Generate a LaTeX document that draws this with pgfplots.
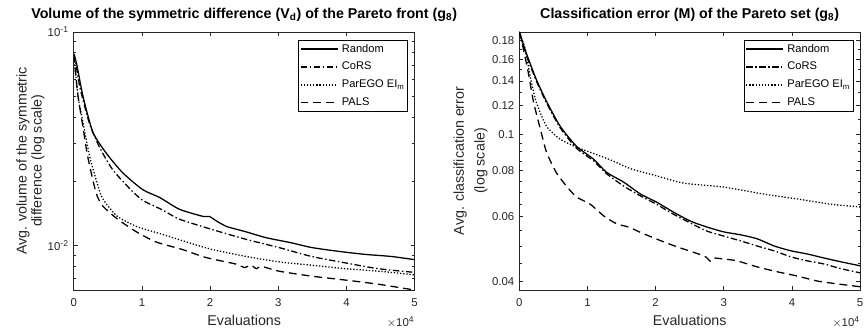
\documentclass[border=0pt]{standalone}
\usepackage{pgfplots}
\pgfplotsset{compat=1.18}
\usepackage{fontspec}
\setmainfont{Liberation Sans}
\definecolor{axgray}{RGB}{38,38,38}
\begin{document}
\begin{tikzpicture}
\pgfplotsset{
  mystyle/.style={
    scale only axis, width=239.4pt, height=181.3pt,
    xmin=0, xmax=5,
    xtick={0,1,2,3,4,5}, xticklabels={0,1,2,3,4,5},
    tick align=inside,
    major tick length=2.8pt, minor tick length=1.6pt,
    axis line style={axgray, line width=0.5pt},
    every tick/.style={axgray, line width=0.5pt},
    tick label style={font=\fontsize{8}{9.6}\selectfont, text=axgray},
    label style={font=\fontsize{10}{12.6}\selectfont, text=axgray},
    xlabel={Evaluations},
    xlabel style={at={(axis description cs:0.5,0)}, anchor=base, yshift=-25pt},
    xticklabel style={anchor=base, yshift=-11.9pt},
    title style={font=\bfseries\fontsize{10}{12}\selectfont, text=black, yshift=-2pt},
    legend style={font=\fontsize{7.8}{9}\selectfont, draw=black, line width=0.5pt,
      inner xsep=1pt, inner ysep=1.8pt, row sep=3.6pt, cells={anchor=west}, text=black,
      nodes={inner xsep=1pt, inner ysep=1pt},
      /tikz/every odd column/.append style={column sep=1.5pt}},
    legend image code/.code={\draw[##1, line width=0.9pt] (0pt,0pt) -- (26pt,0pt);},
    legend cell align=left,
    after end axis/.code={\node[anchor=base east, font=\fontsize{8}{9.6}\selectfont, text=axgray, inner sep=0pt] at ([yshift=-25.5pt]rel axis cs:1,0) {$\times$10\textsuperscript{4}};},
  },
  sRandom/.style={black, line width=0.9pt, smooth, tension=0.4},
  sCoRS/.style={black, line width=0.9pt, smooth, tension=0.4, dash pattern=on 4.5pt off 1.8pt on 1pt off 1.8pt},
  sParEGO/.style={black, line width=0.9pt, smooth, tension=0.4, dash pattern=on 0.9pt off 1.3pt},
  sPALS/.style={black, line width=0.9pt, smooth, tension=0.4, dash pattern=on 5.5pt off 3.5pt},
}
\begin{axis}[mystyle, ymode=log, at={(0,0)}, anchor=south west,
  ymin=0.0062, ymax=0.1,
  ytick={0.01,0.1}, yticklabels={10\textsuperscript{-2},10\textsuperscript{-1}},
  minor ytick={0.007,0.008,0.009,0.02,0.03,0.04,0.05,0.06,0.07,0.08,0.09},
  ylabel={Avg. volume of the symmetric\\difference (log scale)},
  ylabel style={at={(axis description cs:-0.127,0.5)}, anchor=center, align=center, font=\fontsize{10}{10.5}\selectfont},
  title={Volume of the symmetric difference (V\textsubscript{d}) of the Pareto front (g\textsubscript{8})},
  legend style={at={(rel axis cs:0.98,0.97)}, anchor=north east},
]
\addplot[sRandom] coordinates {(0,0.078)(0.04,0.0714)(0.136,0.0499)(0.28,0.0340)(0.48,0.0270)(0.72,0.0219)(1.01,0.0183)(1.26,0.0168)(1.55,0.0148)(1.9,0.0137)(1.99,0.0137)(2.1,0.0130)(2.24,0.0123)(2.4,0.0119)(2.53,0.0116)(2.82,0.0109)(3.20,0.0103)(3.49,0.0098)(3.89,0.0094)(4.28,0.0091)(4.66,0.0089)(5.0,0.0086)};
\addlegendentry{Random}
\addplot[sCoRS] coordinates {(0,0.078)(0.015,0.0767)(0.088,0.0554)(0.234,0.0370)(0.38,0.0288)(0.57,0.0227)(0.82,0.0185)(1.01,0.0163)(1.30,0.0147)(1.55,0.0133)(2.03,0.0119)(2.53,0.0107)(3.01,0.0098)(3.49,0.0089)(3.99,0.0083)(4.47,0.0078)(5.0,0.0075)};
\addlegendentry{CoRS}
\addplot[sParEGO] coordinates {(0,0.078)(0.063,0.0499)(0.136,0.0376)(0.234,0.0261)(0.33,0.0203)(0.42,0.0167)(0.63,0.0138)(0.92,0.0123)(1.30,0.0113)(1.70,0.0103)(2.03,0.0096)(2.53,0.0089)(3.01,0.0084)(3.49,0.0081)(3.99,0.0078)(4.47,0.0076)(5.0,0.0073)};
\addlegendentry{ParEGO EI\textsubscript{m}}
\addplot[sPALS] coordinates {(0,0.078)(0.06,0.0508)(0.13,0.0367)(0.2,0.0266)(0.28,0.0203)(0.34,0.0172)(0.42,0.0154)(0.63,0.0134)(0.92,0.0116)(1.21,0.0104)(1.59,0.0096)(1.94,0.0088)(2.38,0.0082)(2.5,0.0079)(2.6,0.0081)(2.68,0.0078)(2.75,0.0080)(3.01,0.0076)(3.49,0.0072)(3.99,0.0069)(4.47,0.0066)(5.0,0.0062)};
\addlegendentry{PALS}
\end{axis}
\begin{axis}[mystyle, ymode=log, at={(312.9pt,0)}, anchor=south west,
  ymin=0.038, ymax=0.19,
  ytick={0.04,0.06,0.08,0.1,0.12,0.14,0.16,0.18},
  yticklabels={0.04,0.06,0.08,0.1,0.12,0.14,0.16,0.18},
  minor ytick={0.045,0.05,0.055,0.065,0.07,0.075,0.085,0.09,0.095,0.11,0.13,0.15,0.17},
  ylabel={Avg. classification error\\(log scale)},
  ylabel style={at={(axis description cs:-0.143,0.5)}, anchor=center, align=center, font=\fontsize{10}{14.5}\selectfont},
  title={Classification error (M) of the Pareto set (g\textsubscript{8})},
  legend style={at={(rel axis cs:0.98,0.97)}, anchor=north east},
]
\addplot[sRandom] coordinates {(0,0.19)(0.10,0.167)(0.25,0.1412)(0.40,0.1232)(0.60,0.1055)(0.84,0.0931)(1.09,0.0859)(1.28,0.0792)(1.53,0.0745)(1.78,0.0691)(2.01,0.0658)(2.26,0.0618)(2.51,0.0584)(2.75,0.0563)(3.0,0.0546)(3.25,0.0536)(3.49,0.0523)(3.74,0.0500)(3.99,0.0485)(4.22,0.0476)(4.47,0.0464)(4.72,0.0453)(5.0,0.0442)};
\addlegendentry{Random}
\addplot[sCoRS] coordinates {(0,0.19)(0.10,0.165)(0.25,0.140)(0.40,0.122)(0.60,0.1045)(0.84,0.092)(1.09,0.085)(1.28,0.0785)(1.53,0.0727)(1.78,0.0683)(2.01,0.0649)(2.26,0.0610)(2.51,0.0577)(2.75,0.0549)(3.0,0.0532)(3.25,0.0516)(3.49,0.0500)(3.74,0.0485)(3.99,0.0467)(4.22,0.0456)(4.47,0.0447)(4.72,0.0434)(5.0,0.0423)};
\addlegendentry{CoRS}
\addplot[sParEGO] coordinates {(0,0.19)(0.09,0.170)(0.16,0.1439)(0.25,0.1224)(0.40,0.1055)(0.60,0.0973)(0.84,0.0926)(1.09,0.089)(1.34,0.0855)(1.63,0.081)(2.01,0.0775)(2.41,0.0740)(3.0,0.0722)(3.59,0.0691)(4.09,0.0670)(4.57,0.0649)(5.0,0.0638)};
\addlegendentry{ParEGO EI\textsubscript{m}}
\addplot[sPALS] coordinates {(0,0.19)(0.03,0.181)(0.13,0.148)(0.21,0.1224)(0.31,0.1035)(0.40,0.0897)(0.54,0.0792)(0.69,0.0727)(0.84,0.0679)(1.04,0.0649)(1.24,0.0603)(1.43,0.0574)(1.60,0.0563)(1.82,0.0540)(2.12,0.0513)(2.32,0.0497)(2.71,0.0470)(2.80,0.0455)(2.84,0.0464)(3.0,0.0461)(3.19,0.0456)(3.49,0.0439)(3.78,0.0426)(4.07,0.0415)(4.37,0.0402)(4.66,0.0395)(5.0,0.0388)};
\addlegendentry{PALS}
\end{axis}
\pgfresetboundingbox
\path (-51.8pt,-26.6pt) rectangle (555pt,203.7pt);
\end{tikzpicture}
\end{document}
